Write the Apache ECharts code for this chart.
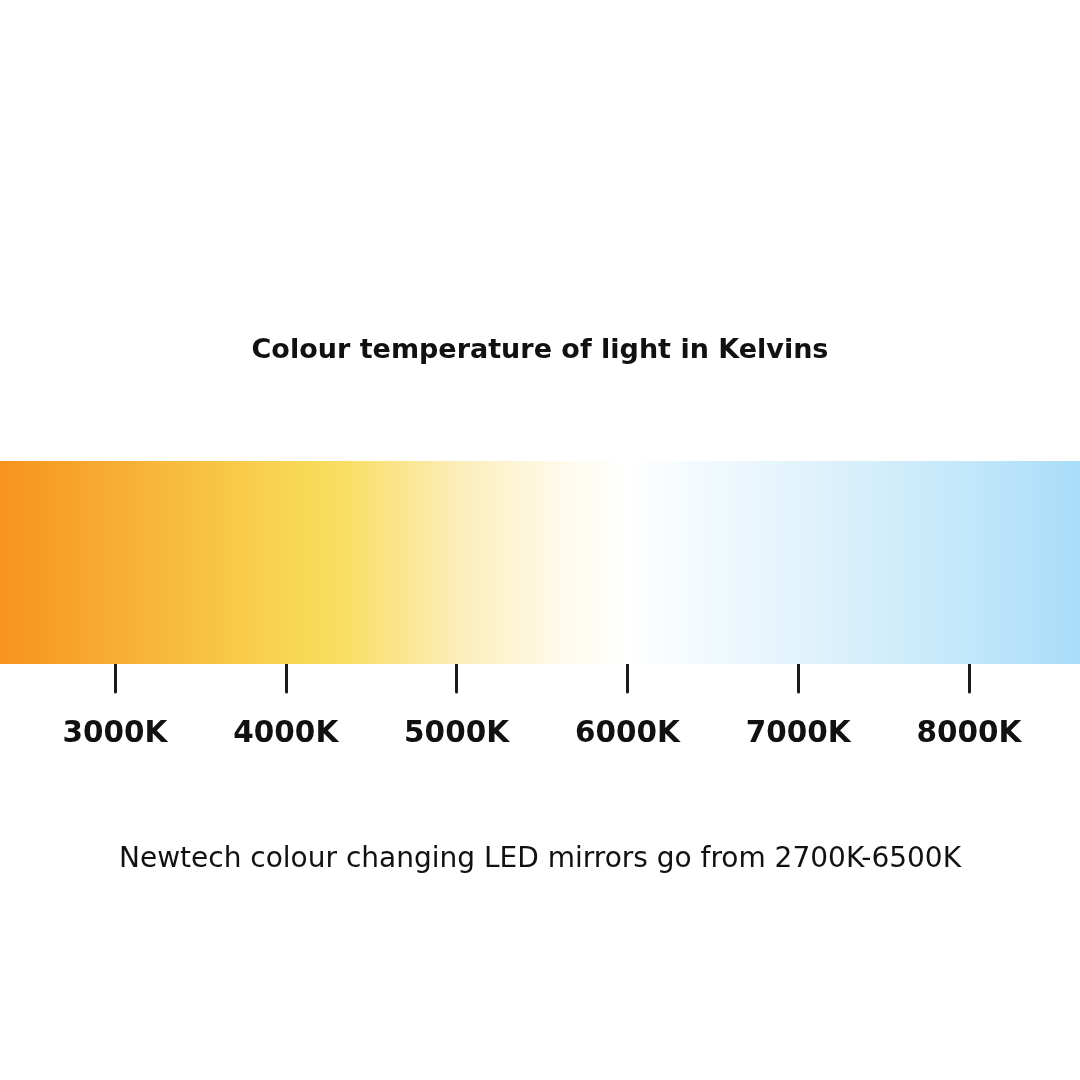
<!DOCTYPE html>
<html>
<head>
<meta charset="utf-8">
<style>html,body{margin:0;padding:0;background:#fff;}#c{width:1080px;height:1080px;}</style>
<script src="https://cdn.jsdelivr.net/npm/echarts@6/dist/echarts.min.js"></script>
</head>
<body>
<div id="c"></div>
<script>
// Data
const titleText = 'Colour temperature of light in Kelvins';
const noteText = 'Newtech colour changing LED mirrors go from 2700K-6500K';
const scaleMinK = 2327;
const scaleMaxK = 8650;
const tickKelvins = [3000, 4000, 5000, 6000, 7000, 8000];
const stopKelvins = [2327, 3000, 4100, 4350, 5000, 5600, 6000, 7000, 8000, 8650];
const stopColors = ['#F7931E', '#F7AD33', '#F9D954', '#F9DE64', '#FCEDB8', '#FEFAEA', '#FFFFFF', '#E2F3FC', '#C2E7FA', '#A8DDF8'];

const chart = echarts.init(document.getElementById('c'));
const boldFam = '"DejaVu Sans", sans-serif';
const lightFam = '"DejaVu Sans", sans-serif';
const stops = stopKelvins.map((k, i) => ({
  offset: (k - scaleMinK) / (scaleMaxK - scaleMinK),
  color: stopColors[i]
}));

chart.setOption({
  backgroundColor: '#ffffff',
  animation: false,
  title: [
    { text: titleText, left: 'center', top: 332,
      textStyle: { fontFamily: boldFam, fontSize: 27, fontWeight: 'bold', color: '#111' } },
    { text: noteText, left: 'center', top: 841,
      textStyle: { fontFamily: lightFam, fontSize: 28, fontWeight: 'normal', color: '#111' } }
  ],
  grid: { left: 0, right: 0, top: 461, height: 203 },
  xAxis: {
    type: 'value', min: scaleMinK, max: scaleMaxK,
    axisLine: { show: false },
    splitLine: { show: false },
    axisTick: { show: true, customValues: tickKelvins, length: 28, inside: false,
      lineStyle: { color: '#1a1a1a', width: 3, cap: 'round' } },
    axisLabel: { show: true, customValues: tickKelvins, margin: 55,
      formatter: v => v + 'K',
      fontFamily: boldFam, fontSize: 29.5, fontWeight: 'bold', color: '#111' }
  },
  yAxis: { type: 'value', min: 0, max: 1, show: false },
  series: [{
    type: 'custom',
    data: [[scaleMinK, scaleMaxK]],
    renderItem: function (params, api) {
      const p0 = api.coord([api.value(0), 1]);
      const p1 = api.coord([api.value(1), 0]);
      return {
        type: 'rect',
        shape: { x: p0[0], y: p0[1], width: p1[0] - p0[0], height: p1[1] - p0[1] },
        style: { fill: new echarts.graphic.LinearGradient(0, 0, 1, 0, stops) }
      };
    }
  }]
});
</script>
</body>
</html>
